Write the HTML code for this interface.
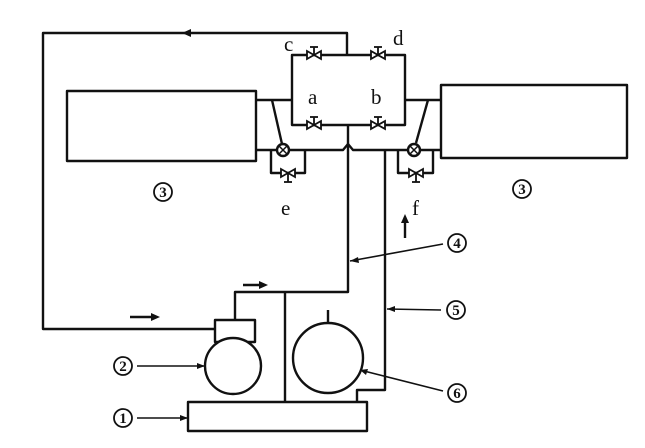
<!DOCTYPE html>
<html><head><meta charset="utf-8"><style>
html,body{margin:0;padding:0;background:#fff;}
svg{display:block}
text{font-family:"Liberation Serif",serif;fill:#111}
</style></head><body>
<svg width="645" height="448" viewBox="0 0 645 448" xmlns="http://www.w3.org/2000/svg">
<g fill="none" stroke="#111" stroke-width="2.4" stroke-linejoin="round">
<polyline points="215,329 43,329 43,33 347,33 347,55"/>
<rect x="292" y="55" width="113" height="70"/>
<rect x="67" y="91" width="189" height="70"/>
<rect x="441" y="85" width="186" height="73"/>
<line x1="256" y1="100" x2="292" y2="100"/>
<line x1="405" y1="100" x2="441" y2="100"/>
<line x1="272" y1="100" x2="282" y2="144"/>
<line x1="428" y1="100" x2="416" y2="143"/>
<polyline points="256,150 343,150 348,144 353,150 441,150"/>
<polyline points="271,150 271,173 305,173 305,150"/>
<polyline points="398,150 398,173 433,173 433,150"/>
<polyline points="348,125 348,292 235,292 235,320"/>
<line x1="285" y1="292" x2="285" y2="402"/>
<polyline points="385,150 385,390 357,390 357,402"/>
<rect x="215" y="320" width="40" height="22"/>
<circle cx="233" cy="366" r="28" fill="#fff"/>
<circle cx="328" cy="358" r="35"/>
<line x1="328" y1="310" x2="328" y2="323"/>
<rect x="188" y="402" width="179" height="29"/>
<circle cx="283" cy="150" r="6" fill="#fff"/>
<circle cx="414" cy="150" r="6" fill="#fff"/>
<line x1="279" y1="146" x2="287" y2="154" stroke-width="1.5"/>
<line x1="287" y1="146" x2="279" y2="154" stroke-width="1.5"/>
<line x1="410" y1="146" x2="418" y2="154" stroke-width="1.5"/>
<line x1="418" y1="146" x2="410" y2="154" stroke-width="1.5"/>
<line x1="137" y1="366" x2="205" y2="366" stroke-width="1.6"/>
<line x1="137" y1="418" x2="188" y2="418" stroke-width="1.6"/>
<line x1="350" y1="261" x2="443" y2="244" stroke-width="1.6"/>
<line x1="387" y1="309" x2="441" y2="310" stroke-width="1.6"/>
<line x1="360" y1="370" x2="443" y2="391" stroke-width="1.6"/>
<line x1="130" y1="317" x2="155" y2="317"/>
<line x1="243" y1="285" x2="263" y2="285"/>
<line x1="405" y1="238" x2="405" y2="220"/>
</g>
<g fill="#111">
<polygon points="160,317 151,313 151,321"/>
<polygon points="268,285 259,281 259,289"/>
<polygon points="405,214 401,223 409,223"/>
<polygon points="182,33 191,29 191,37"/>
<polygon points="205,366 197,363 197,369"/>
<polygon points="188,418 180,415 180,421"/>
<polygon points="350,261 358,257 359,263"/>
<polygon points="387,309 395,306 395,312"/>
<polygon points="360,370 368,369 366,375"/>
</g>
<g fill="#fff" stroke="#111" stroke-width="1.8">
<g transform="translate(314,55)"><polygon points="-7,-4 -7,4 7,-4 7,4"/><line x1="0" y1="0" x2="0" y2="-8"/><line x1="-4" y1="-8" x2="4" y2="-8"/></g>
<g transform="translate(378,55)"><polygon points="-7,-4 -7,4 7,-4 7,4"/><line x1="0" y1="0" x2="0" y2="-8"/><line x1="-4" y1="-8" x2="4" y2="-8"/></g>
<g transform="translate(314,125)"><polygon points="-7,-4 -7,4 7,-4 7,4"/><line x1="0" y1="0" x2="0" y2="-8"/><line x1="-4" y1="-8" x2="4" y2="-8"/></g>
<g transform="translate(378,125)"><polygon points="-7,-4 -7,4 7,-4 7,4"/><line x1="0" y1="0" x2="0" y2="-8"/><line x1="-4" y1="-8" x2="4" y2="-8"/></g>
<g transform="translate(288,173)"><polygon points="-7,-4 -7,4 7,-4 7,4"/><line x1="0" y1="0" x2="0" y2="9"/><line x1="-4" y1="9" x2="4" y2="9"/></g>
<g transform="translate(416,173)"><polygon points="-7,-4 -7,4 7,-4 7,4"/><line x1="0" y1="0" x2="0" y2="9"/><line x1="-4" y1="9" x2="4" y2="9"/></g>
</g>
<g font-size="21">
<text x="308" y="104">a</text>
<text x="371" y="104">b</text>
<text x="284" y="51">c</text>
<text x="393" y="45">d</text>
<text x="281" y="215">e</text>
<text x="412" y="215">f</text>
</g>
<g font-size="15" font-weight="bold" text-anchor="middle">
<g fill="none" stroke="#111" stroke-width="1.8">
<circle cx="163" cy="192" r="9"/><circle cx="522" cy="189" r="9"/>
<circle cx="123" cy="366" r="9"/><circle cx="123" cy="418" r="9"/>
<circle cx="457" cy="243" r="9"/><circle cx="456" cy="310" r="9"/><circle cx="457" cy="393" r="9"/>
</g>
<text x="163" y="197">3</text><text x="522" y="194">3</text>
<text x="123" y="371">2</text><text x="123" y="423">1</text>
<text x="457" y="248">4</text><text x="456" y="315">5</text><text x="457" y="398">6</text>
</g>
</svg>
</body></html>
